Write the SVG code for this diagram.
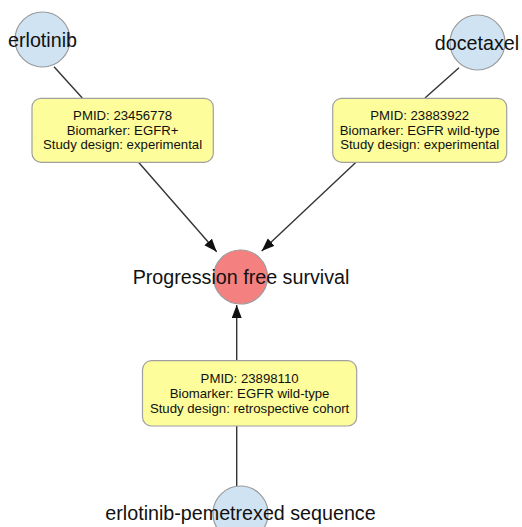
<svg xmlns="http://www.w3.org/2000/svg" width="522" height="527" viewBox="0 0 522 527">
  <style>
    .drug { fill: #cfe3f2; stroke: #9a9a9a; stroke-width: 1.2; }
    .outcome { fill: #f58080; stroke: #9a9a9a; stroke-width: 1.2; }
    .evidence { fill: #fdfd9b; stroke: #a0a0a0; stroke-width: 1.2; }
    .label { font-family: "Liberation Sans", Arial, sans-serif; font-size: 19.7px; fill: #111; text-anchor: middle; }
    .info { font-family: "Liberation Sans", Arial, sans-serif; font-size: 13.2px; fill: #111; text-anchor: middle; }
    .edge { stroke: #333; stroke-width: 1.4; fill: none; }
  </style>
  <defs>
    <marker id="arrow" markerUnits="userSpaceOnUse" markerWidth="14" markerHeight="12" refX="13" refY="5" orient="auto">
      <path d="M0,0 L13,5 L0,10 Z" fill="#111"/>
    </marker>
  </defs>

  <!-- connectors -->
  <g id="connectors">
    <line class="edge" x1="54" y1="66.7" x2="82.3" y2="98"/>
    <line class="edge" x1="138.3" y1="162" x2="216.7" y2="251.7" marker-end="url(#arrow)"/>
    <line class="edge" x1="459" y1="67.7" x2="425" y2="98"/>
    <line class="edge" x1="356" y1="162.3" x2="261.7" y2="251" marker-end="url(#arrow)"/>
    <line class="edge" x1="236.7" y1="486" x2="236.7" y2="426"/>
    <line class="edge" x1="236.7" y1="360.5" x2="236.7" y2="305" marker-end="url(#arrow)"/>
  </g>

  <!-- outcome -->
  <g id="pfs">
    <circle class="outcome" cx="240.5" cy="277" r="27"/>
    <text class="label" x="241" y="283.5">Progression free survival</text>
  </g>

  <!-- drugs -->
  <g id="erlotinib">
    <circle class="drug" cx="42.5" cy="39.5" r="27.5"/>
    <text class="label" x="42.5" y="46.7">erlotinib</text>
  </g>
  <g id="docetaxel">
    <circle class="drug" cx="477.5" cy="42.5" r="27.5"/>
    <text class="label" x="477" y="49.5">docetaxel</text>
  </g>
  <g id="erlotinib-pemetrexed">
    <circle class="drug" cx="240.5" cy="513.5" r="27.5"/>
    <text class="label" x="240.5" y="520">erlotinib-pemetrexed sequence</text>
  </g>

  <!-- evidence boxes -->
  <g id="evidence-23456778">
    <rect class="evidence" x="32" y="98.3" width="181.3" height="64" rx="9"/>
    <text class="info" x="122.6" y="120.3">PMID: 23456778</text>
    <text class="info" x="122.6" y="134.8">Biomarker: EGFR+</text>
    <text class="info" x="122.6" y="149.3">Study design: experimental</text>
  </g>
  <g id="evidence-23883922">
    <rect class="evidence" x="332.7" y="98.3" width="174" height="64" rx="9"/>
    <text class="info" x="419.7" y="120.3">PMID: 23883922</text>
    <text class="info" x="419.7" y="134.8">Biomarker: EGFR wild-type</text>
    <text class="info" x="419.7" y="149.3">Study design: experimental</text>
  </g>
  <g id="evidence-23898110">
    <rect class="evidence" x="142.5" y="360.7" width="214.2" height="65.3" rx="9"/>
    <text class="info" x="249.6" y="383.3">PMID: 23898110</text>
    <text class="info" x="249.6" y="398">Biomarker: EGFR wild-type</text>
    <text class="info" x="249.6" y="412.7">Study design: retrospective cohort</text>
  </g>
</svg>
